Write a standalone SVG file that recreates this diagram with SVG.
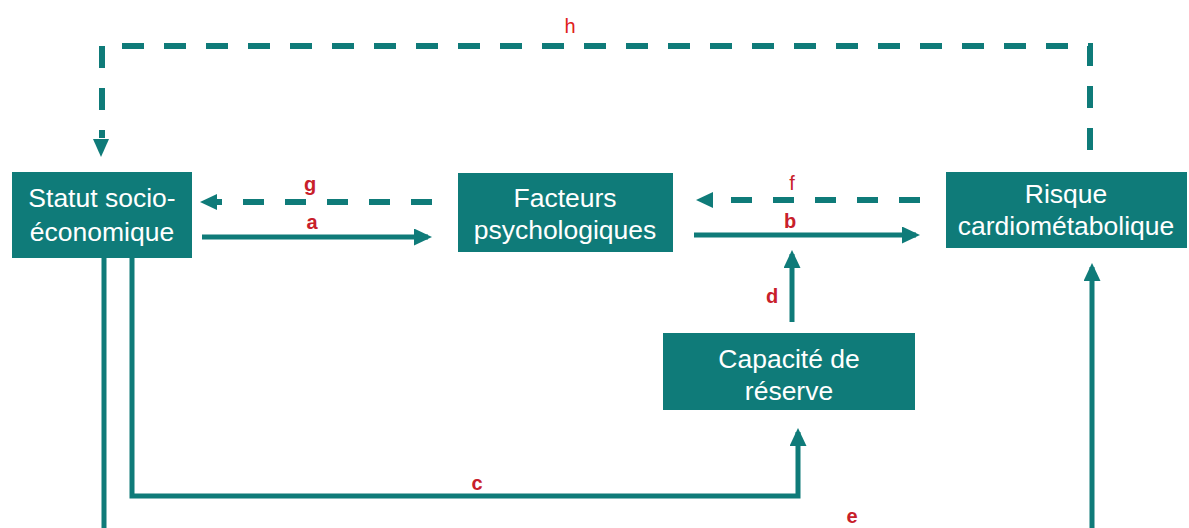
<svg xmlns="http://www.w3.org/2000/svg" width="1189" height="528" viewBox="0 0 1189 528">
<style>
.box{fill:#0F7B79;}
.nt{font-family:"Liberation Sans",Arial,sans-serif;font-size:26.5px;fill:#ffffff;text-anchor:middle;}
.ln{fill:none;stroke:#0F7B79;stroke-width:5;}
.dl{fill:none;stroke:#0F7B79;stroke-width:6;stroke-dasharray:21 21;}
.lb{font-family:"Liberation Sans",Arial,sans-serif;font-size:20px;font-weight:bold;fill:#C8202A;text-anchor:middle;}
</style>
<defs>
<marker id="ah" markerUnits="userSpaceOnUse" markerWidth="24" markerHeight="20" refX="14" refY="8.5" orient="auto"><path d="M0,0 L18,8.5 L0,17 Z" fill="#0F7B79"/></marker>
</defs>
<rect width="1189" height="528" fill="#ffffff"/>
<g id="connectors">
<path class="ln" d="M202,237 H428" marker-end="url(#ah)"/>
<path class="dl" d="M432,202 H216"/>
<path d="M200,202 L217,194 L217,210 Z" fill="#0F7B79"/>
<path class="ln" d="M694,235 H916" marker-end="url(#ah)"/>
<path class="dl" d="M920,200 H712"/>
<path d="M696,200 L713,192 L713,208 Z" fill="#0F7B79"/>
<path class="ln" d="M792,322 V254" marker-end="url(#ah)"/>
<path class="ln" d="M132,258 V496 H798 V432" marker-end="url(#ah)"/>
<path class="ln" d="M104,258 V530"/>
<path class="ln" d="M1092,530 V267" marker-end="url(#ah)"/>
<path class="dl" d="M1090,150 V46 H102 V138" style="stroke-dasharray:22 20"/>
<path d="M93,139 L109,139 L101,157 Z" fill="#0F7B79"/>
<text class="lb" x="570" y="33" style="font-weight:normal;fill:#E0201B">h</text>
<text class="lb" x="310" y="191">g</text>
<text class="lb" x="312" y="229">a</text>
<text class="lb" x="792" y="190" style="font-weight:normal">f</text>
<text class="lb" x="790" y="228">b</text>
<text class="lb" x="772" y="303">d</text>
<text class="lb" x="477" y="490">c</text>
<text class="lb" x="852" y="523">e</text>
</g>
<g id="node-statut">
<rect class="box" x="12" y="172" width="180" height="86"/>
<text class="nt" x="102" y="207">Statut socio-</text>
<text class="nt" x="102" y="241">économique</text>
</g>
<g id="node-facteurs">
<rect class="box" x="458" y="173" width="215" height="79"/>
<text class="nt" x="565" y="207">Facteurs</text>
<text class="nt" x="565" y="239">psychologiques</text>
</g>
<g id="node-risque">
<rect class="box" x="946" y="172" width="241" height="76"/>
<text class="nt" x="1066" y="203">Risque</text>
<text class="nt" x="1066" y="235">cardiométabolique</text>
</g>
<g id="node-capacite">
<rect class="box" x="663" y="333" width="252" height="77"/>
<text class="nt" x="789" y="368">Capacité de</text>
<text class="nt" x="789" y="400">réserve</text>
</g>
</svg>
